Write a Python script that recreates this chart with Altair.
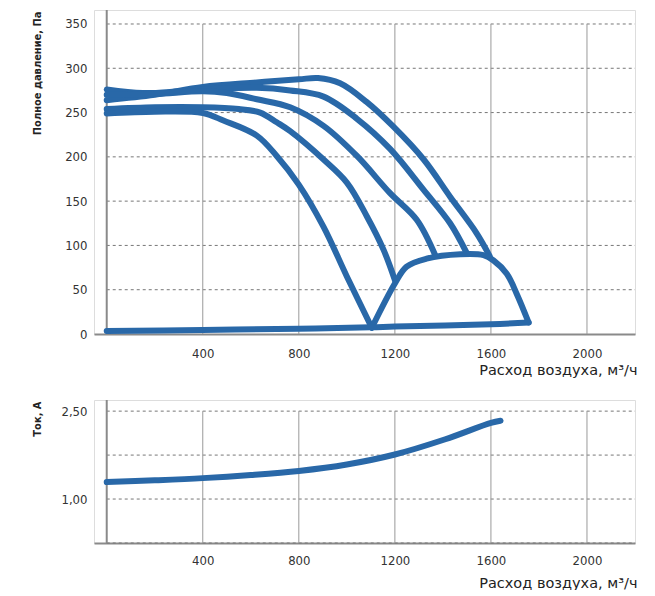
import altair as alt
import pandas as pd

# ---- data ----
# pressure curves: flow (m3/h) and total pressure (Pa)
a_x = [0, 200, 400, 625, 800, 880, 972, 1082, 1194, 1320, 1430, 1540, 1595]
a_y = [264, 270, 279, 284, 287.5, 289, 283, 262, 234, 197, 155, 114, 88]
b_x = [0, 150, 300, 400, 625, 764, 903, 1042, 1180, 1319, 1430, 1500]
b_y = [276, 272, 274, 276, 278, 275, 268, 243, 209, 163, 125, 91]
c_x = [0, 200, 400, 500, 625, 764, 903, 1042, 1180, 1291, 1368]
c_y = [270, 271, 274, 272, 265, 256, 235, 201, 159, 129, 89]
d_x = [0, 200, 400, 550, 639, 708, 764, 903, 1000, 1083, 1153, 1201]
d_y = [254, 256, 256, 254, 250, 239, 229, 197, 171, 133, 95, 60]
e_x = [0, 200, 400, 486, 625, 708, 799, 903, 1000, 1104]
e_y = [249, 251, 249.5, 241, 224, 201, 169, 121, 65, 7]
dome_x = [1104, 1200, 1249, 1332, 1472, 1569, 1611, 1666, 1708, 1757]
dome_y = [7, 57, 76, 85, 90, 89, 83, 68, 45, 13]
base_x = [0, 400, 800, 1100, 1200, 1600, 1757]
base_y = [3.5, 4.5, 6, 7.5, 8.5, 11, 13]

# current curve: flow (m3/h) and current (A)
cur_x = [0, 200, 400, 600, 800, 1000, 1200, 1410, 1600, 1640]
cur_y = [1.29, 1.32, 1.357, 1.41, 1.48, 1.59, 1.76, 2.02, 2.30, 2.335]

x_ticks = [400, 800, 1200, 1600, 2000]
p_ticks = [0, 50, 100, 150, 200, 250, 300, 350]
p_grid = [50, 100, 150, 200, 250, 300, 350]
i_ticks = [1.0, 2.5]
i_grid = [0.25, 1.0, 1.75, 2.5]

X_TITLE = "Расход воздуха, м³/ч"
P_TITLE = "Полное давление, Па"
I_TITLE = "Ток, А"

BLUE = "#2968a8"
NARROW = "'Liberation Sans Narrow', 'DejaVu Sans Condensed', Roboto, sans-serif"
WIDE = "'DejaVu Sans', 'Open Sans', sans-serif"

W = 541
H1 = 324
H2 = 143
X_DOM = [-53, 2200]


def frame(name, xs, ys):
    return pd.DataFrame({"s": name, "x": xs, "y": ys, "o": range(len(xs))})


press = pd.concat([
    frame("A", a_x, a_y), frame("B", b_x, b_y), frame("C", c_x, c_y),
    frame("D", d_x, d_y), frame("E", e_x, e_y), frame("dome", dome_x, dome_y),
    frame("base", base_x, base_y),
])
cur = frame("I", cur_x, cur_y)


def x_enc(title_y, label_pad):
    return alt.X(
        "x:Q",
        scale=alt.Scale(domain=X_DOM, nice=False, zero=False),
        axis=alt.Axis(
            values=x_ticks, format="d", grid=False, ticks=False, domainColor="#8a8a8a",
            domainWidth=2, labelFont=NARROW, labelFontSize=13, labelColor="#333",
            labelPadding=label_pad, title=X_TITLE, titleFont=WIDE, titleFontSize=14.5,
            titleFontWeight="normal", titleColor="#222", titleX=543, titleY=title_y,
            titleAlign="right", titleBaseline="alphabetic",
        ),
    )


def y_enc(domain, values, title, fmt_expr=None):
    kw = dict(
        values=values, grid=False, ticks=False, domain=False, labelFont=NARROW,
        labelFontSize=13, labelColor="#333", labelPadding=7, title=title,
        titleFont=NARROW, titleFontSize=11, titleFontWeight="bold", titleColor="#222",
        titleX=-57, titleY=1, titleAlign="right", titleBaseline="middle", titleAngle=270,
    )
    if fmt_expr:
        kw["labelExpr"] = fmt_expr
    return alt.Y("y:Q", scale=alt.Scale(domain=domain, nice=False, zero=False), axis=alt.Axis(**kw))


def panel(df, y_dom, y_vals, y_title, grid_vals, vgrid_top, h, title_y, label_pad, fmt_expr=None):
    base = alt.Chart(df)
    lines = base.mark_line(
        color=BLUE, strokeWidth=6, strokeCap="round", strokeJoin="round", interpolate="catmull-rom"
    ).encode(
        x=x_enc(title_y, label_pad),
        y=y_enc(y_dom, y_vals, y_title, fmt_expr),
        detail="s:N",
        order="o:Q",
    )
    hgrid = alt.Chart(pd.DataFrame({"g": grid_vals})).mark_rule(
        color="#777", strokeWidth=1, strokeDash=[3, 3]
    ).encode(y="g:Q", x=alt.datum(0), x2=alt.datum(X_DOM[1]))
    vgrid = alt.Chart(pd.DataFrame({"g": x_ticks})).mark_rule(
        color="#999", strokeWidth=1
    ).encode(x="g:Q", y=alt.datum(y_dom[0]), y2=alt.datum(vgrid_top))
    yaxis = alt.Chart(pd.DataFrame({"g": [0]})).mark_rule(
        color="#8a8a8a", strokeWidth=2
    ).encode(x="g:Q", y=alt.datum(y_dom[0]), y2=alt.datum(y_dom[1]))
    return alt.layer(hgrid, vgrid, yaxis, lines).properties(width=W, height=H1 if h == 1 else H2)


top = panel(press, [0, 365.8], p_ticks, P_TITLE, p_grid, 350, 1, 40, 13)
bottom = panel(
    cur, [0.25, 2.69], i_ticks, I_TITLE, i_grid, 2.5, 2, 44, 11,
    fmt_expr="replace(format(datum.value, '.2f'), '.', ',')",
)

chart = alt.vconcat(top, bottom, spacing=21).properties(
    padding={"left": 22, "top": 0, "right": 5, "bottom": 0}
).configure_view(stroke=None).configure(background="white")

chart.save("out.html", embed_options={"renderer": "svg", "actions": False})
